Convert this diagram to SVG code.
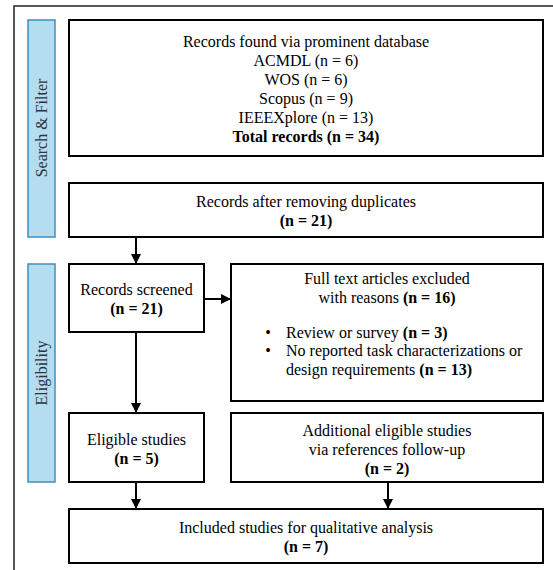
<svg xmlns="http://www.w3.org/2000/svg" width="553" height="570" viewBox="0 0 553 570" font-family="'Liberation Serif', 'Times New Roman', Times, 'DejaVu Serif', serif">
<style>
text{font-family:'Liberation Serif','Times New Roman',Times,'DejaVu Serif',serif;font-size:16px;fill:#000;}
.c{text-anchor:middle;}
.b{font-weight:bold;}
.box{fill:#fff;stroke:#000;stroke-width:2;}
.bar{fill:#b5ddf0;stroke:#3d8fc0;stroke-width:1.5;}
.lbl{fill:#2b3440;text-anchor:middle;font-size:16px;}
.con{stroke:#000;stroke-width:2;fill:none;marker-end:url(#ah);}
</style>
<defs>
<marker id="ah" markerUnits="userSpaceOnUse" markerWidth="12" markerHeight="12" refX="10" refY="6" orient="auto">
<path d="M0,1 L10,6 L0,11 Z" fill="#000"/>
</marker>
</defs>
<rect x="0" y="0" width="553" height="570" fill="#fff"/>
<rect x="14" y="6" width="560" height="580" fill="none" stroke="#222" stroke-width="1.5"/>

<g id="bar-search">
<rect class="bar" x="28" y="20" width="27" height="217"/>
<text class="lbl" transform="translate(47,128) rotate(-90)">Search &amp; Filter</text>
</g>
<g id="bar-eligibility">
<rect class="bar" x="28" y="264" width="27" height="218"/>
<text class="lbl" transform="translate(47,373) rotate(-90)">Eligibility</text>
</g>

<g id="n-found">
<rect class="box" x="69" y="20" width="474" height="136"/>
<text class="c" x="306" y="47">Records found via prominent database</text>
<text class="c" x="306" y="66">ACMDL (n = 6)</text>
<text class="c" x="306" y="85">WOS (n = 6)</text>
<text class="c" x="306" y="104">Scopus (n = 9)</text>
<text class="c" x="306" y="123">IEEEXplore (n = 13)</text>
<text class="c b" x="306" y="142">Total records (n = 34)</text>
</g>
<g id="n-dedup">
<rect class="box" x="69" y="183" width="474" height="54"/>
<text class="c" x="306" y="207">Records after removing duplicates</text>
<text class="c b" x="306" y="226">(n = 21)</text>
</g>
<g id="n-screened">
<rect class="box" x="69" y="264" width="135" height="68"/>
<text class="c" x="136.5" y="295">Records screened</text>
<text class="c b" x="136.5" y="314">(n = 21)</text>
</g>
<g id="n-excluded">
<rect class="box" x="231" y="264" width="312" height="137"/>
<text class="c" x="387" y="284">Full text articles excluded</text>
<text class="c" x="387" y="303">with reasons <tspan class="b">(n = 16)</tspan></text>
<text x="268" y="338" class="c">•</text>
<text x="286" y="338">Review or survey <tspan class="b">(n = 3)</tspan></text>
<text x="268" y="356" class="c">•</text>
<text x="286" y="356">No reported task characterizations or</text>
<text x="286" y="375">design requirements <tspan class="b">(n = 13)</tspan></text>
</g>
<g id="n-eligible">
<rect class="box" x="69" y="413" width="135" height="69"/>
<text class="c" x="136.5" y="445">Eligible studies</text>
<text class="c b" x="136.5" y="464">(n = 5)</text>
</g>
<g id="n-additional">
<rect class="box" x="231" y="413" width="312" height="69"/>
<text class="c" x="387" y="436">Additional eligible studies</text>
<text class="c" x="387" y="455">via references follow-up</text>
<text class="c b" x="387" y="474">(n = 2)</text>
</g>
<g id="n-included">
<rect class="box" x="69" y="509" width="474" height="54"/>
<text class="c" x="306" y="533">Included studies for qualitative analysis</text>
<text class="c b" x="306" y="552">(n = 7)</text>
</g>

<g id="connectors">
<line class="con" x1="136" y1="237" x2="136" y2="264"/>
<line class="con" x1="204" y1="299" x2="231" y2="299"/>
<line class="con" x1="136" y1="332" x2="136" y2="413"/>
<line class="con" x1="136" y1="482" x2="136" y2="509"/>
<line class="con" x1="388" y1="482" x2="388" y2="509"/>
</g>
</svg>
